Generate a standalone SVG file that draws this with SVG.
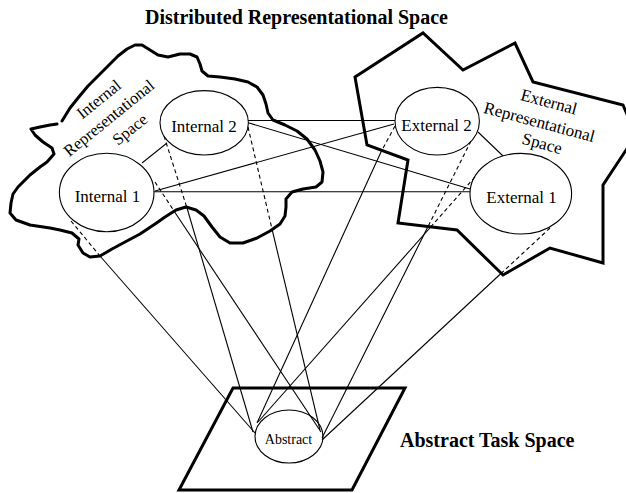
<svg xmlns="http://www.w3.org/2000/svg" width="626" height="493" viewBox="0 0 626 493">
  <style>
    .outline { fill: none; stroke: #000; stroke-width: 3; }
    .blob { stroke-linejoin: round; stroke-linecap: round; }
    .star { stroke-linejoin: miter; }
    .node ellipse { fill: none; stroke: #000; stroke-width: 1.1; }
    .lbl { font-family: "Liberation Serif", "Times New Roman", serif; font-size: 17px; text-anchor: middle; fill: #000; }
    .small { font-size: 14px; }
    .region { font-family: "Liberation Serif", "Times New Roman", serif; font-size: 16.5px; text-anchor: middle; fill: #000; }
    .title { font-family: "Liberation Serif", "Times New Roman", serif; font-size: 20px; font-weight: bold; fill: #000; }
    #connectors line { stroke: #000; stroke-width: 1.1; }
    #connectors .dash { stroke-dasharray: 4 3; }
  </style>

  <!-- headings -->
  <text class="title" x="145" y="24">Distributed Representational Space</text>
  <text class="title" x="400" y="447">Abstract Task Space</text>

  <!-- internal representational space: wavy cloud outline -->
  <g id="internal-space">
    <path class="outline blob" d="M62,121 L70,108 L78,98 L88,86 L98,76 L108,66 L118,56 L127,49 L135,45 L142,45 L150,50 L158,55 L168,57 L180,54 L190,54 L197,57 L200,64 L202,71 L208,76 L220,77 L235,79 L248,82 L257,87 L263,95 L266,104 L268,113 L273,120 L285,125 L297,131 L307,139 L315,150 L320,161 L323,172 L322,182 L316,187 L303,189 L292,192 L286,199 L286,207 L285,216 L280,224 L270,231 L257,238 L243,243 L230,243 L220,237 L212,227 L204,216 L196,210 L186,207 L176,210 L165,217 L155,224 L140,234 L125,242 L112,249 L100,256 L90,257 L83,253 L78,245 L79,239 L72,233 L60,230 L50,228 L30,225 L16,220 L10,213 L11,203 L13,194 L18,187 L30,175 L40,167 L47,162 L54,154 L52,148 L43,142 L35,135 L31,129 L40,127 L50,125 L57,124"/>
    <text class="region" transform="translate(114,121) rotate(-39)">
      <tspan x="4" y="-21">Internal</tspan>
      <tspan x="0" y="0">Representational</tspan>
      <tspan x="7" y="22">Space</tspan>
    </text>
  </g>

  <!-- external representational space: jagged star outline -->
  <g id="external-space">
    <path class="outline star" d="M355,77 L423,33 L463,70 L515,43 L533,82 L623,105 L636,135 L603,185 L603,263 L550,248 L503,275 L457,230 L398,223 L408,160 L367,145 Z"/>
    <text class="region" transform="translate(540,128) rotate(15)" style="font-size:17px">
      <tspan x="4" y="-22">External</tspan>
      <tspan x="0" y="0">Representational</tspan>
      <tspan x="6" y="20">Space</tspan>
    </text>
  </g>

  <!-- abstract task space: parallelogram -->
  <g id="task-space">
    <path class="outline star" d="M233,388 L405,388 L352,490 L179,490 Z"/>
  </g>

  <g id="connectors">
    <!-- links between representations -->
    <line x1="142" y1="163" x2="167" y2="143"/>
    <line x1="478" y1="132" x2="503" y2="156"/>
    <line x1="248" y1="120.5" x2="395" y2="120.5"/>
    <line x1="249" y1="123" x2="470" y2="189"/>
    <line x1="155" y1="191" x2="394" y2="124"/>
    <line x1="154" y1="191.7" x2="470" y2="191.7"/>

    <!-- Internal 1 projection -->
    <line class="dash" x1="71" y1="221" x2="100" y2="256"/>
    <line x1="100" y1="256" x2="255" y2="433"/>
    <line class="dash" x1="155" y1="182" x2="174" y2="211"/>
    <line x1="174" y1="211" x2="321" y2="432"/>

    <!-- Internal 2 projection -->
    <line class="dash" x1="164" y1="136" x2="187" y2="208"/>
    <line x1="187" y1="208" x2="253" y2="432"/>
    <line class="dash" x1="248" y1="127" x2="272" y2="229"/>
    <line x1="272" y1="229" x2="320" y2="430"/>

    <!-- External 2 projection -->
    <line class="dash" x1="395" y1="126" x2="381" y2="152"/>
    <line x1="381" y1="152" x2="257" y2="423"/>
    <line class="dash" x1="471" y1="141" x2="428" y2="226.6"/>
    <line x1="428" y1="226.6" x2="322" y2="438"/>

    <!-- External 1 projection -->
    <line class="dash" x1="475" y1="177" x2="430.7" y2="227"/>
    <line x1="430.7" y1="227" x2="258" y2="422"/>
    <line class="dash" x1="550" y1="228" x2="501.5" y2="273"/>
    <line x1="501.5" y1="273" x2="322" y2="440"/>
  </g>

  <g id="internal-1" class="node">
    <ellipse cx="106.7" cy="192.5" rx="47.3" ry="39.2"/>
    <text class="lbl" x="107.5" y="202">Internal 1</text>
  </g>
  <g id="internal-2" class="node">
    <ellipse cx="204.2" cy="122.8" rx="44.2" ry="32.2"/>
    <text class="lbl" x="204" y="132">Internal 2</text>
  </g>
  <g id="external-2" class="node">
    <ellipse cx="437.2" cy="121.2" rx="42.2" ry="33.8"/>
    <text class="lbl" x="436.5" y="131">External 2</text>
  </g>
  <g id="external-1" class="node">
    <ellipse cx="520.8" cy="193.7" rx="50.8" ry="40.3"/>
    <text class="lbl" x="521.5" y="203">External 1</text>
  </g>
  <g id="abstract" class="node">
    <ellipse cx="289" cy="436.5" rx="34" ry="26.5"/>
    <text class="lbl small" x="288.5" y="444">Abstract</text>
  </g>
</svg>
